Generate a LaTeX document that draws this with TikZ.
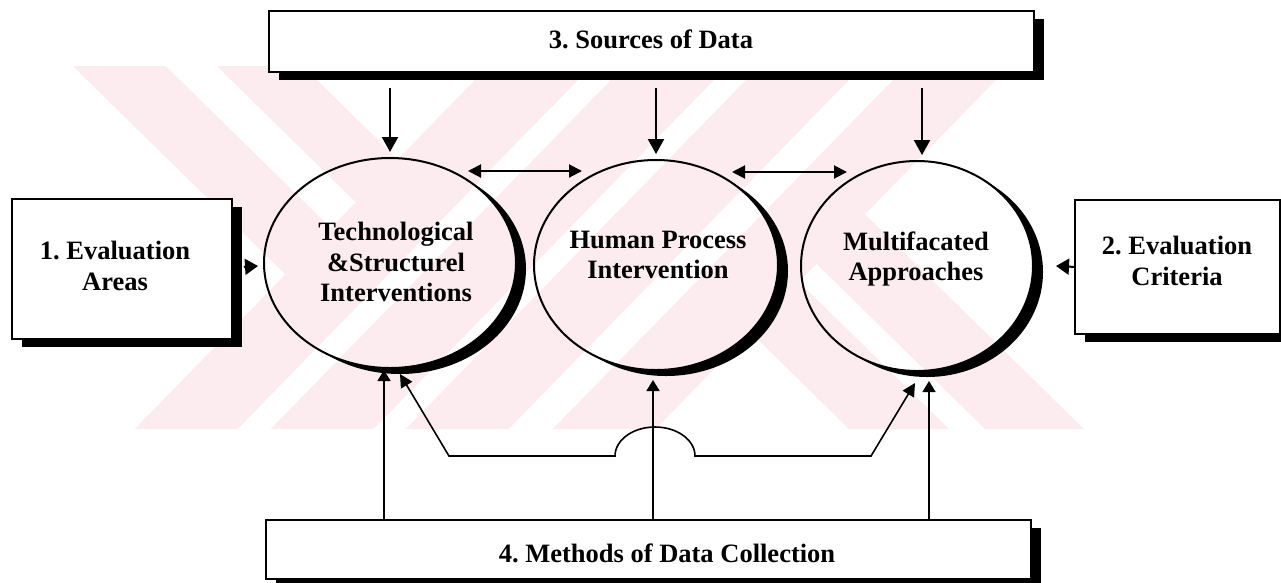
\documentclass[tikz,border=0pt]{standalone}
\usepackage{fontspec}
\setmainfont{Liberation Serif}
\usetikzlibrary{arrows.meta,shapes.geometric,shadows,calc}
\definecolor{wmpink}{RGB}{253,236,239}
\frenchspacing
\begin{document}
\begin{tikzpicture}[x=1pt,y=-1pt,
  lbl/.style={font=\bfseries\fontsize{26.5}{30.5}\selectfont, align=center, inner sep=0pt},
  databox/.style={draw=black, line width=1.8pt, fill=white, inner sep=0pt, anchor=north west},
  boxshade/.style={drop shadow={shadow xshift=10pt, shadow yshift=-8pt, opacity=1, fill=black}},
  ring/.style={ellipse, draw=black, line width=2pt, inner sep=0pt},
  toparr/.style={line width=2.2pt, -{Triangle[width=16pt,length=15pt]}},
  dblarr/.style={line width=2pt, {Triangle[width=13pt,length=13pt]}-{Triangle[width=13pt,length=13pt]}},
  sidearr/.style={line width=2pt, -{Triangle[width=16pt,length=13pt]}},
  botarr/.style={line width=1.6pt, -{Triangle[width=13pt,length=11pt]}},
  diagarr/.style={line width=1.6pt, line join=miter, {Triangle[width=13pt,length=13pt]}-{Triangle[width=13pt,length=13pt]}}
]
\useasboundingbox (0,0) rectangle (1281,582);
\clip (0,0) rectangle (1281,582);

% faint striped emblem in the background
\begin{scope}[fill=wmpink]
  \fill (488.6,66) -- (591.6,66) -- (237.7,429) -- (134.7,429) -- cycle;
  \fill (624.6,66) -- (727.6,66) -- (373.7,429) -- (270.7,429) -- cycle;
  \fill (759.6,66) -- (862.6,66) -- (508.7,429) -- (405.7,429) -- cycle;
  \fill (906.6,66) -- (1009.6,66) -- (655.7,429) -- (552.7,429) -- cycle;
  \fill (72.7,66) -- (165.7,66) -- (336,233) -- (290.5,279.5) -- cycle;
  \fill (216.7,66) -- (302.7,66) -- (402.8,164.2) -- (360.8,207.3) -- cycle;
  \fill (745,327) -- (794,277) -- (949,429) -- (849,429) -- cycle;
  \fill (811.6,259) -- (859.6,209) -- (1084,429) -- (985,429) -- cycle;
\end{scope}

% boxes with solid drop shadows
\node[databox, boxshade, minimum width=765pt, minimum height=61pt] (src) at (268,10) {};
\node[databox, boxshade, minimum width=220pt, minimum height=140pt] (box1) at (11,198) {};
\node[databox, boxshade, minimum width=205pt, minimum height=134pt] (box2) at (1074,199) {};
\node[databox, boxshade, minimum width=765pt, minimum height=59pt] (bot) at (265,519) {};

% the three intervention ellipses
\node[ring, minimum width=252pt, minimum height=210pt] (c1) at (390,263) {};
\node[ring, minimum width=244pt, minimum height=210pt] (c2) at (656,265) {};
\node[ring, minimum width=232pt, minimum height=210pt] (c3) at (917,266) {};

% crescent shadows on the lower right of each ellipse
\foreach \n/\rx/\ry in {c1/126/105, c2/122/105, c3/116/105} {
  \begin{scope}[even odd rule]
    \clip (-5,-5) rectangle (1290,590) (\n.center) ellipse [x radius=\rx pt, y radius=\ry pt];
    \fill[black] ([shift={(10pt,-6pt)}]\n.center) ellipse [x radius=\rx pt, y radius=\ry pt];
  \end{scope}
}

% labels
\node[lbl] (tsrc) at (651,39) {3. Sources of Data};
\node[lbl] (tbot) at (667,553) {4. Methods of Data Collection};
\node[lbl] (tb1) at (115,266) {1. Evaluation\\Areas};
\node[lbl] (tb2) at (1177,261) {2. Evaluation\\Criteria};
\node[lbl] (t1) at (396,262) {Technological\\\&Structurel\\Interventions};
\node[lbl] (t2) at (658,255) {Human Process\\Intervention};
\node[lbl] (t3) at (916,259) {Multifacated\\Approaches};

% sources feed each intervention
\draw[toparr] ($(src.south -| c1.north)+(0,15)$) -- ($(c1.north)+(0,-5)$);
\draw[toparr] ($(src.south -| c2.north)+(0,15)$) -- ($(c2.north)+(0,-5)$);
\draw[toparr] ($(src.south -| c3.north)+(5,15)$) -- ($(c3.north)+(5,-5)$);

% links between interventions
\coordinate (h1a) at (468,171);
\coordinate (h1b) at (582,171);
\coordinate (h2a) at (732,172);
\coordinate (h2b) at (847,172);
\draw[dblarr] (h1a) -- (h1b);
\draw[dblarr] (h2a) -- (h2b);

% evaluation areas and criteria
\draw[sidearr] ($(box1.east)+(11,-2)$) -- ($(c1.west)+(-5,3)$);
\draw[sidearr] (box2.west) -- ($(c3.east)+(22,0)$);

% methods of data collection
\coordinate (in1) at ($(c1.south)+(-6,1)$);
\coordinate (in2) at ($(c2.south)+(-3,9)$);
\coordinate (in3) at ($(c3.south)+(12,9)$);
\draw[botarr] (bot.north -| in1) -- (in1);
\draw[botarr] (bot.north -| in2) -- (in2);
\draw[botarr] (bot.north -| in3) -- (in3);

% cross link with a hop over the middle line
\coordinate (tip1) at ($(c1.south)+(10,5)$);
\coordinate (tip3) at ($(c3.south)+(-2,11)$);
\coordinate (jl) at (449,456);
\coordinate (bumpL) at (615,456);
\coordinate (jr) at (871,456);
\draw[diagarr] (tip1) -- (jl) -- (bumpL) arc[start angle=180, end angle=0, x radius=40pt, y radius=29pt] -- (jr) -- (tip3);
\end{tikzpicture}
\end{document}
